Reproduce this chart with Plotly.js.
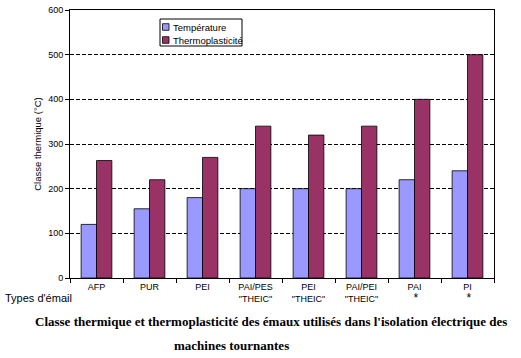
<!DOCTYPE html>
<html>
<head>
<meta charset="utf-8">
<script src="https://cdn.plot.ly/plotly-3.0.1.min.js"></script>
<style>html,body{margin:0;padding:0;background:#fff;}#chart{width:521px;height:358px;}</style>
</head>
<body>
<div id="chart"></div>
<script>
var categories = ["AFP", "PUR", "PEI", "PAI/PES<br>\"THEIC\"", "PEI<br>\"THEIC\"", "PAI/PEI<br>\"THEIC\"",
                  "PAI<br> <span style=\"font-size:12px\">*</span>", "PI<br> <span style=\"font-size:12px\">*</span>"];
var temperature = [120, 155, 180, 200, 200, 200, 220, 240];
var thermoplasticite = [263, 220, 270, 340, 320, 340, 400, 500];
var yTicks = [0, 100, 200, 300, 400, 500, 600];
var seriesNames = ["Température", "Thermoplasticité"];
var seriesColors = ["#9999FF", "#993366"];

var traces = [
  {type: "bar", name: seriesNames[0], x: categories, y: temperature,
   marker: {color: seriesColors[0], line: {color: "#000", width: 0.8}}},
  {type: "bar", name: seriesNames[1], x: categories, y: thermoplasticite,
   marker: {color: seriesColors[1], line: {color: "#000", width: 0.8}}}
];

// pixel -> paper helpers (plot area: x 70..494, y 10..278)
function px(x) { return (x - 70) / 424; }
function py(y) { return (278 - y) / 268; }

var shapes = [
  {type: "rect", xref: "paper", yref: "paper", x0: px(160), x1: px(242), y0: py(46), y1: py(19),
   line: {color: "#000", width: 1}, fillcolor: "#fff", layer: "above"}
];
var legendAnn = [];
var rowY = [27, 40];
for (var i = 0; i < seriesNames.length; i++) {
  shapes.push({type: "rect", xref: "paper", yref: "paper",
    x0: px(162.5), x1: px(169), y0: py(rowY[i] + 3.3), y1: py(rowY[i] - 3.3),
    line: {color: "#000", width: 0.8}, fillcolor: seriesColors[i], layer: "above"});
  legendAnn.push({text: seriesNames[i], xref: "paper", yref: "paper", x: px(170.5), y: py(rowY[i]),
    xanchor: "left", yanchor: "middle", showarrow: false, font: {size: 9.5}});
}

var layout = {
  width: 521, height: 358,
  margin: {l: 70, r: 27, t: 10, b: 80},
  paper_bgcolor: "#fff", plot_bgcolor: "#fff",
  font: {family: "Liberation Sans, Arial, sans-serif", color: "#000", size: 9},
  barmode: "group", bargap: 0.42, bargroupgap: 0,
  showlegend: false,
  xaxis: {type: "category", tickson: "boundaries", ticks: "outside", ticklen: 4,
          tickcolor: "#000", showline: true, linecolor: "#000", linewidth: 1,
          mirror: true, showgrid: false, tickfont: {size: 9}},
  yaxis: {range: [0, 600], tickvals: yTicks, ticks: "outside", ticklen: 4,
          tickcolor: "#000", showline: true, linecolor: "#000", linewidth: 1,
          mirror: true, showgrid: true, gridcolor: "#000", griddash: "4px,2px",
          gridwidth: 1, zeroline: false, tickfont: {size: 9},
          title: {text: "Classe thermique (°C)", font: {size: 9.5}, standoff: 4}},
  shapes: shapes,
  annotations: legendAnn.concat([
    {text: "Types d'émail", xref: "paper", yref: "paper", x: -0.157, y: -0.075,
     xanchor: "left", yanchor: "middle", showarrow: false, font: {size: 11}},
    {text: "<b>Classe thermique et thermoplasticité des émaux utilisés dans l'isolation électrique des</b>",
     xref: "paper", yref: "paper", x: 0.474, y: -0.164, xanchor: "center", yanchor: "middle",
     showarrow: false, font: {family: "Liberation Serif, Times New Roman, serif", size: 13}},
    {text: "<b>machines tournantes</b>",
     xref: "paper", yref: "paper", x: 0.382, y: -0.250, xanchor: "center", yanchor: "middle",
     showarrow: false, font: {family: "Liberation Serif, Times New Roman, serif", size: 13}}
  ])
};

Plotly.newPlot("chart", traces, layout, {displayModeBar: false, staticPlot: true});
</script>
</body>
</html>
